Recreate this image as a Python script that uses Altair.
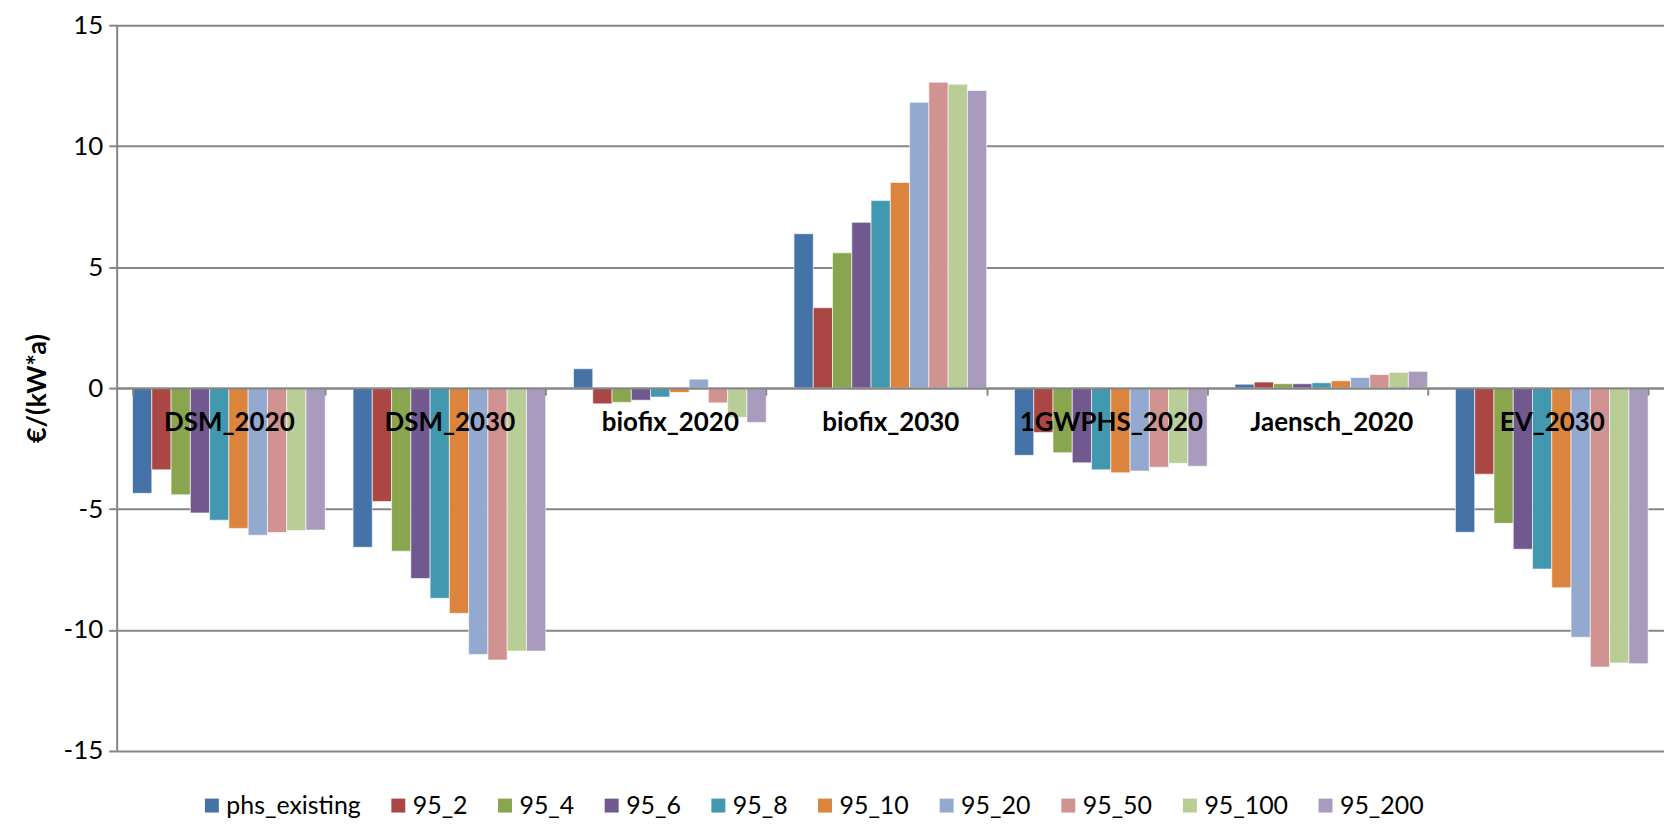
import altair as alt
import pandas as pd

categories = ["DSM_2020", "DSM_2030", "biofix_2020", "biofix_2030", "1GWPHS_2020", "Jaensch_2020", "EV_2030"]
series = ["phs_existing", "95_2", "95_4", "95_6", "95_8", "95_10", "95_20", "95_50", "95_100", "95_200"]
colors = ["#4572A7", "#AA4643", "#89A54E", "#71588F", "#4198AF", "#DB843D", "#93A9CF", "#D19392", "#B9CD96", "#A99BBD"]

values = {
    "DSM_2020":     [-4.35, -3.38, -4.41, -5.16, -5.46, -5.80, -6.08, -5.97, -5.89, -5.87],
    "DSM_2030":     [-6.58, -4.69, -6.74, -7.87, -8.69, -9.31, -11.01, -11.24, -10.87, -10.87],
    "biofix_2020":  [0.80, -0.65, -0.59, -0.50, -0.37, -0.18, 0.37, -0.61, -1.21, -1.42],
    "biofix_2030":  [6.38, 3.32, 5.59, 6.85, 7.75, 8.50, 11.81, 12.64, 12.56, 12.30],
    "1GWPHS_2020":  [-2.78, -1.84, -2.67, -3.09, -3.38, -3.50, -3.43, -3.27, -3.11, -3.23],
    "Jaensch_2020": [0.16, 0.25, 0.18, 0.18, 0.22, 0.30, 0.44, 0.56, 0.65, 0.69],
    "EV_2030":      [-5.96, -3.56, -5.59, -6.66, -7.48, -8.25, -10.30, -11.53, -11.36, -11.39],
}

rows = []
for c in categories:
    for s, v in zip(series, values[c]):
        rows.append({"category": c, "series": s, "value": v})
df = pd.DataFrame(rows)

W, H = 1552, 728
FONT = "Lato"
GRID = "#868686"

chart = alt.Chart(df).mark_bar(stroke="#ffffff", strokeWidth=1, strokeOpacity=0.6).encode(
    x=alt.X("category:N", sort=categories, title=None,
            scale=alt.Scale(paddingInner=0.126, paddingOuter=0.072),
            axis=alt.Axis(orient="bottom", offset=-H / 2, tickBand="extent", grid=False,
                          domainColor=GRID, domainWidth=2, tickColor=GRID, tickWidth=2, tickSize=7,
                          labelFont=FONT, labelFontSize=26, labelFontWeight="bold", labelColor="#000000",
                          labelPadding=15, labelAngle=0, labelLimit=400, labelOverlap=False, zindex=1)),
    xOffset=alt.XOffset("series:N", sort=series, scale=alt.Scale(paddingInner=0, paddingOuter=0)),
    y=alt.Y("value:Q", title="€/(kW*a)",
            scale=alt.Scale(domain=[-15, 15], nice=False, zero=False),
            axis=alt.Axis(values=[-15, -10, -5, 0, 5, 10, 15], grid=True, gridColor=GRID, gridWidth=2,
                          domainColor=GRID, domainWidth=2, tickColor=GRID, tickWidth=2, tickSize=8,
                          labelExpr="'' + datum.value",
                          labelFont=FONT, labelFontSize=26, labelColor="#000000", labelPadding=6,
                          titleFont=FONT, titleFontSize=27, titleFontWeight="bold", titleColor="#000000",
                          titlePadding=12)),
    color=alt.Color("series:N", sort=series, title=None,
                    scale=alt.Scale(domain=series, range=colors),
                    legend=alt.Legend(orient="none", legendX=83, legendY=770, direction="horizontal",
                                      symbolType="square", symbolSize=196, symbolStrokeWidth=0,
                                      labelFont=FONT, labelFontSize=25, labelColor="#000000",
                                      labelOffset=2, columnPadding=25)),
).properties(
    width=W, height=H,
    autosize=alt.AutoSizeParams(type="none"),
    padding={"left": 109, "top": 16, "right": 0, "bottom": 73},
).configure_view(stroke=None).configure(background="white")

chart.save("out.html", embed_options={"renderer": "svg", "actions": False})
